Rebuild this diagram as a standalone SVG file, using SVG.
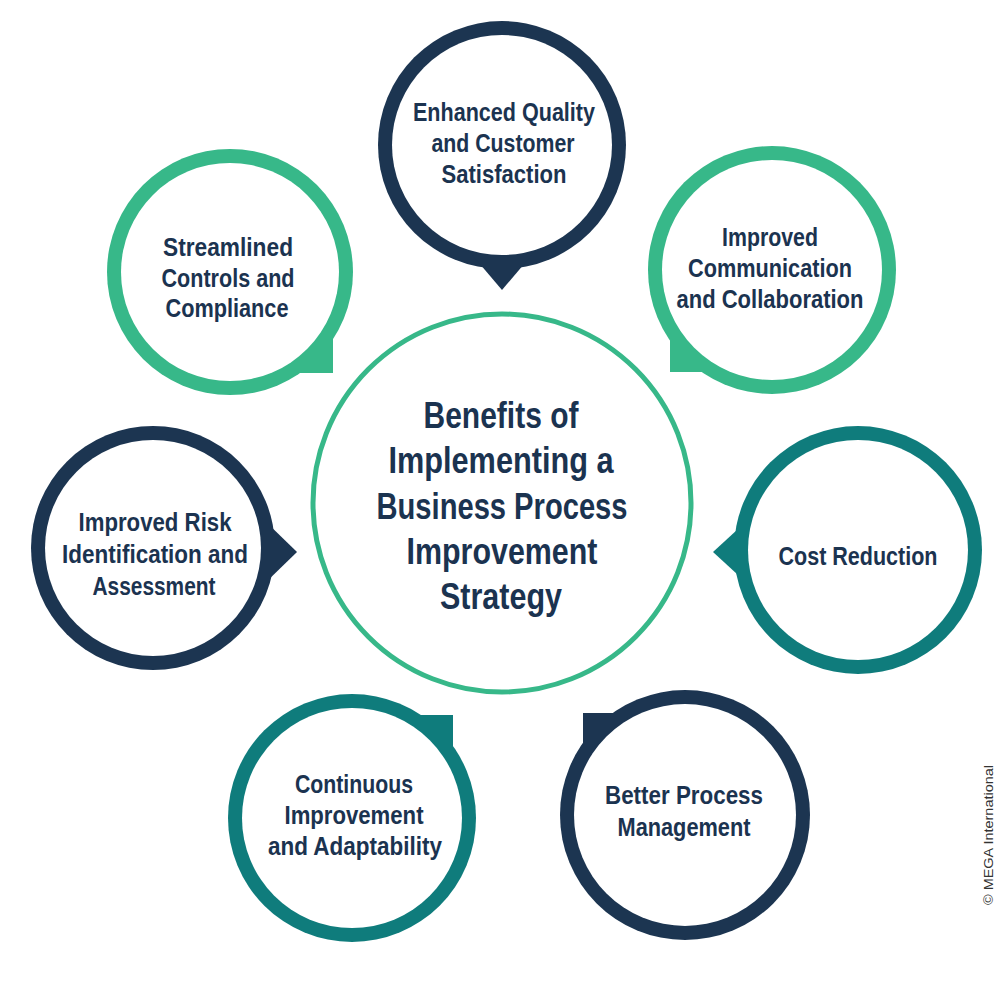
<svg xmlns="http://www.w3.org/2000/svg" width="1001" height="1001" viewBox="0 0 1001 1001">
<style>
.navy{fill:#1c3551}
.green{fill:#37b889}
.teal{fill:#0f7c7c}
.inner{fill:#ffffff}
.t{font-family:"Liberation Sans",Arial,sans-serif;font-weight:bold;fill:#1b3350;text-anchor:middle;font-size:26px}
.tc{font-size:36px}
.copy{font-family:"Liberation Sans",Arial,sans-serif;font-size:13px;fill:#333;text-anchor:middle}
</style>
<rect width="1001" height="1001" fill="#ffffff"/>
<g id="connectors"></g>
<g id="center">
<circle cx="502" cy="503" r="189" fill="#ffffff" stroke="#37b889" stroke-width="5"/>
<text class="t tc" x="501" y="428" textLength="155" lengthAdjust="spacingAndGlyphs">Benefits of</text>
<text class="t tc" x="501" y="473" textLength="225" lengthAdjust="spacingAndGlyphs">Implementing a</text>
<text class="t tc" x="502" y="519" textLength="251" lengthAdjust="spacingAndGlyphs">Business Process</text>
<text class="t tc" x="502" y="564" textLength="191" lengthAdjust="spacingAndGlyphs">Improvement</text>
<text class="t tc" x="501" y="609" textLength="122" lengthAdjust="spacingAndGlyphs">Strategy</text>
</g>
<g id="n-quality">
<circle class="navy" cx="502" cy="145" r="124"/>
<polygon class="navy" points="468,250 536,250 502,290"/>
<circle class="inner" cx="502" cy="145" r="110"/>
<text class="t" x="504" y="121" textLength="182" lengthAdjust="spacingAndGlyphs">Enhanced Quality</text>
<text class="t" x="503" y="152" textLength="143" lengthAdjust="spacingAndGlyphs">and Customer</text>
<text class="t" x="504" y="183" textLength="125" lengthAdjust="spacingAndGlyphs">Satisfaction</text>
</g>
<g id="n-streamlined">
<circle class="green" cx="230" cy="272" r="123"/>
<rect class="green" x="230" y="272" width="103" height="101"/>
<circle class="inner" cx="230" cy="272" r="109"/>
<text class="t" x="228" y="256" textLength="130" lengthAdjust="spacingAndGlyphs">Streamlined</text>
<text class="t" x="228" y="287" textLength="133" lengthAdjust="spacingAndGlyphs">Controls and</text>
<text class="t" x="227" y="317" textLength="123" lengthAdjust="spacingAndGlyphs">Compliance</text>
</g>
<g id="n-communication">
<circle class="green" cx="772" cy="270" r="124"/>
<rect class="green" x="670" y="270" width="102" height="102"/>
<circle class="inner" cx="772" cy="270" r="110"/>
<text class="t" x="770" y="246" textLength="96" lengthAdjust="spacingAndGlyphs">Improved</text>
<text class="t" x="770" y="277" textLength="164" lengthAdjust="spacingAndGlyphs">Communication</text>
<text class="t" x="770" y="308" textLength="187" lengthAdjust="spacingAndGlyphs">and Collaboration</text>
</g>
<g id="n-risk">
<circle class="navy" cx="153" cy="548" r="122"/>
<polygon class="navy" points="262,518 262,586 297,552"/>
<circle class="inner" cx="153" cy="548" r="108"/>
<text class="t" x="155" y="531" textLength="153" lengthAdjust="spacingAndGlyphs">Improved Risk</text>
<text class="t" x="155" y="563" textLength="186" lengthAdjust="spacingAndGlyphs">Identification and</text>
<text class="t" x="154" y="595" textLength="123" lengthAdjust="spacingAndGlyphs">Assessment</text>
</g>
<g id="n-cost">
<circle class="teal" cx="858" cy="550" r="124"/>
<polygon class="teal" points="750,518 750,586 713,552"/>
<circle class="inner" cx="858" cy="550" r="110"/>
<text class="t" x="858" y="565" textLength="159" lengthAdjust="spacingAndGlyphs">Cost Reduction</text>
</g>
<g id="n-continuous">
<circle class="teal" cx="352" cy="818" r="124"/>
<rect class="teal" x="352" y="715" width="101" height="103"/>
<circle class="inner" cx="352" cy="818" r="110"/>
<text class="t" x="354" y="793" textLength="118" lengthAdjust="spacingAndGlyphs">Continuous</text>
<text class="t" x="354" y="824" textLength="139" lengthAdjust="spacingAndGlyphs">Improvement</text>
<text class="t" x="355" y="855" textLength="174" lengthAdjust="spacingAndGlyphs">and Adaptability</text>
</g>
<g id="n-process">
<circle class="navy" cx="685" cy="815" r="125"/>
<rect class="navy" x="583" y="713" width="102" height="102"/>
<circle class="inner" cx="685" cy="815" r="111"/>
<text class="t" x="684" y="804" textLength="158" lengthAdjust="spacingAndGlyphs">Better Process</text>
<text class="t" x="684" y="836" textLength="133" lengthAdjust="spacingAndGlyphs">Management</text>
</g>
<text class="copy" transform="translate(993,835) rotate(-90)" textLength="140" lengthAdjust="spacingAndGlyphs">© MEGA International</text>
</svg>
